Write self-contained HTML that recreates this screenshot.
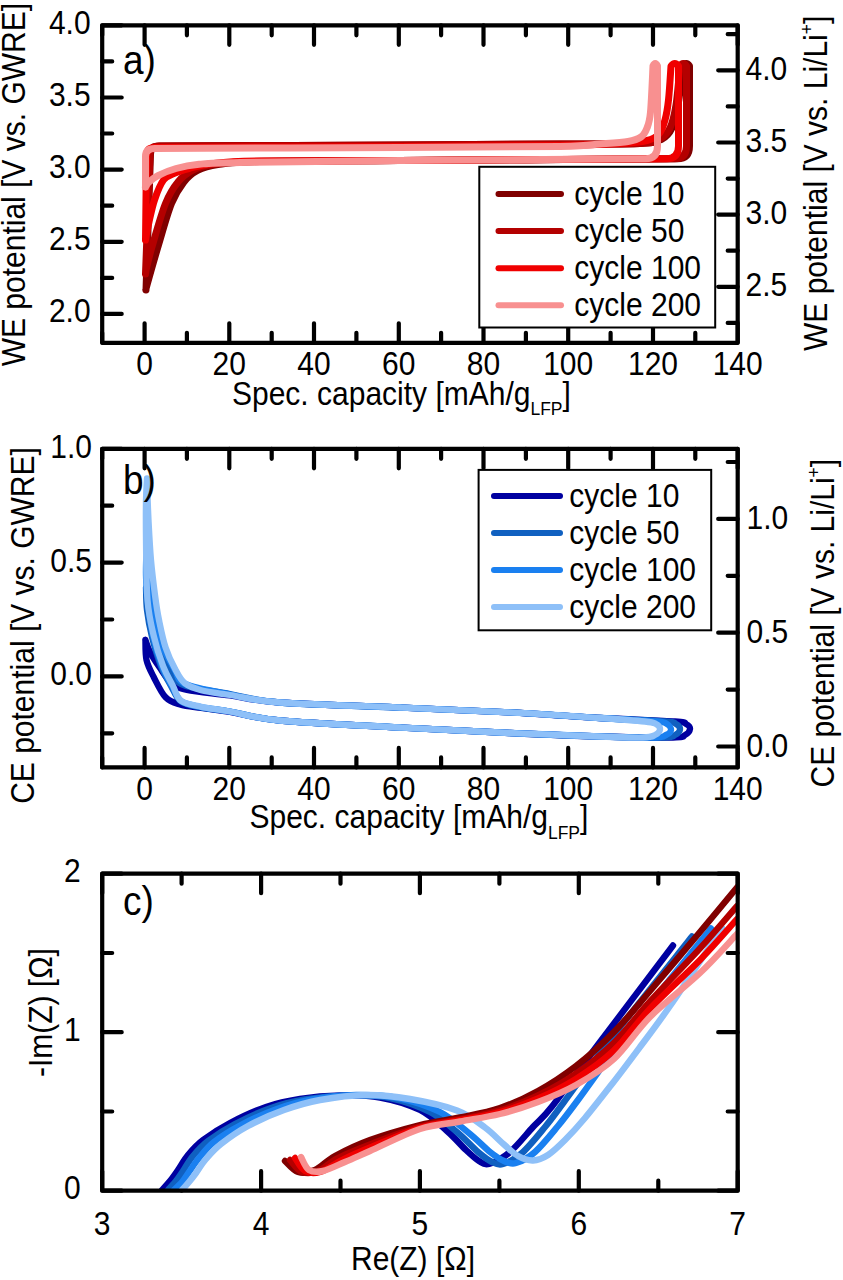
<!DOCTYPE html>
<html><head><meta charset="utf-8"><style>
html,body{margin:0;padding:0;background:#fff;}
svg{display:block;}
text{font-family:"Liberation Sans", sans-serif;fill:#000;}
</style></head><body>
<svg width="843" height="1280" viewBox="0 0 843 1280">
<defs><clipPath id="clipc"><rect x="102.2" y="873.7" width="635.5" height="317.0"/></clipPath></defs>
<rect width="843" height="1280" fill="#fff"/>
<path d="M144.6 342.8V323.3M144.6 25.3V44.8M229.3 342.8V323.3M229.3 25.3V44.8M314.0 342.8V323.3M314.0 25.3V44.8M398.8 342.8V323.3M398.8 25.3V44.8M483.5 342.8V323.3M483.5 25.3V44.8M568.2 342.8V323.3M568.2 25.3V44.8M653.0 342.8V323.3M653.0 25.3V44.8M737.7 342.8V323.3M737.7 25.3V44.8M102.2 342.8V332.8M102.2 25.3V35.3M186.9 342.8V332.8M186.9 25.3V35.3M271.7 342.8V332.8M271.7 25.3V35.3M356.4 342.8V332.8M356.4 25.3V35.3M441.1 342.8V332.8M441.1 25.3V35.3M525.9 342.8V332.8M525.9 25.3V35.3M610.6 342.8V332.8M610.6 25.3V35.3M695.3 342.8V332.8M695.3 25.3V35.3M102.2 313.9H121.7M102.2 241.8H121.7M102.2 169.6H121.7M102.2 97.5H121.7M102.2 25.3H121.7M102.2 277.9H112.2M102.2 205.7H112.2M102.2 133.5H112.2M102.2 61.4H112.2M737.7 286.8H718.2M737.7 214.6H718.2M737.7 142.5H718.2M737.7 70.3H718.2M737.7 322.9H727.7M737.7 250.7H727.7M737.7 178.6H727.7M737.7 106.4H727.7M737.7 34.2H727.7" stroke="#000" stroke-width="4.2" stroke-linecap="round" fill="none"/>
<path d="M146.0 290.0L150.5 154.0Q150.5 146.0 159.5 146.0C199.6 145.8 333.2 145.3 400.0 145.0C466.8 144.7 520.0 144.2 560.0 144.0C600.0 143.8 623.0 144.3 640.0 143.5C657.0 142.7 656.7 141.6 662.0 139.0C667.3 136.4 669.3 133.7 672.0 128.0C674.7 122.3 676.2 115.3 678.0 105.0C679.8 94.7 682.2 72.5 683.0 66.0Q686.2 61 689.5 66V146Q689.5 158.8 677.5 158.8C631.2 159.1 469.6 160.1 400.0 160.5C330.4 160.9 290.3 160.8 260.0 161.5C229.7 162.2 228.4 163.0 218.0 164.5C207.6 166.0 203.2 167.5 197.5 170.5C191.8 173.5 187.8 177.0 183.5 182.5C179.2 188.0 175.7 193.1 171.5 203.5C167.3 213.9 162.6 231.4 158.5 245.0C154.4 258.6 149.1 277.5 147.0 285.0C144.9 292.5 146.2 289.2 146.0 290.0" fill="none" stroke="#800000" stroke-width="7.0" stroke-linejoin="round" stroke-linecap="round" />
<path d="M145.5 274.0L150.0 154.0Q150.0 146.0 159.0 146.0C199.2 145.8 333.2 145.3 400.0 145.0C466.8 144.7 520.0 144.2 560.0 144.0C600.0 143.8 623.3 144.3 640.0 143.5C656.7 142.7 655.0 141.6 660.0 139.0C665.0 136.4 667.3 133.7 670.0 128.0C672.7 122.3 674.3 115.3 676.0 105.0C677.7 94.7 679.3 72.5 680.0 66.0Q683.2 61 686.5 66V146Q686.5 158.8 674.5 158.8C628.8 159.1 469.1 160.1 400.0 160.5C330.9 160.9 290.7 160.7 260.0 161.3C229.3 161.9 227.2 162.6 216.0 164.0C204.8 165.4 199.3 167.0 193.0 170.0C186.7 173.0 182.6 176.4 178.0 182.0C173.4 187.6 169.8 193.0 165.5 203.5C161.2 214.0 155.6 234.6 152.5 245.0C149.4 255.4 148.2 261.2 147.0 266.0C145.8 270.8 145.8 272.7 145.5 274.0" fill="none" stroke="#b40000" stroke-width="7.0" stroke-linejoin="round" stroke-linecap="round" />
<path d="M145.5 240.0L146.5 155.5Q146.5 147.5 155.5 147.5C196.2 147.3 332.6 146.8 400.0 146.5C467.4 146.2 523.3 146.0 560.0 145.5C596.7 145.0 605.5 144.3 620.0 143.5C634.5 142.7 640.5 142.1 647.0 140.5C653.5 138.9 656.0 137.4 659.0 134.0C662.0 130.6 663.4 125.7 665.0 120.0C666.6 114.3 667.5 109.0 668.5 100.0C669.5 91.0 670.6 71.7 671.0 66.0Q674.8 61 678.5 66V146Q678.5 158.8 666.5 158.8C622.1 159.1 467.8 160.1 400.0 160.5C332.2 160.9 291.2 160.5 260.0 161.0C228.8 161.5 224.8 162.2 213.0 163.5C201.2 164.8 195.3 166.9 189.0 168.5C182.7 170.1 179.2 171.1 175.0 173.0C170.8 174.9 166.9 175.5 163.5 180.0C160.1 184.5 156.9 193.0 154.5 200.0C152.1 207.0 150.3 216.3 149.0 222.0C147.7 227.7 147.1 231.0 146.5 234.0C145.9 237.0 145.7 239.0 145.5 240.0" fill="none" stroke="#f00000" stroke-width="7.0" stroke-linejoin="round" stroke-linecap="round" />
<path d="M145.5 187.0L145.5 156.5Q145.5 148.5 154.5 148.5C195.4 148.3 332.4 147.8 400.0 147.5C467.6 147.2 526.7 147.1 560.0 146.5C593.3 145.9 588.7 144.8 600.0 144.0C611.3 143.2 621.2 142.7 628.0 141.5C634.8 140.3 637.8 139.2 641.0 137.0C644.2 134.8 645.4 132.2 647.0 128.0C648.6 123.8 649.5 122.3 650.5 112.0C651.5 101.7 652.6 73.7 653.0 66.0Q655.2 61 657.5 66V146Q657.5 158.8 645.5 158.8C604.6 159.1 467.6 159.9 400.0 160.5C332.4 161.1 273.5 161.9 240.0 162.5C206.5 163.1 209.7 163.3 199.0 164.3C188.3 165.3 182.8 166.6 176.0 168.5C169.2 170.4 162.5 173.3 158.0 175.6C153.5 177.8 151.1 180.1 149.0 182.0C146.9 183.9 146.1 186.2 145.5 187.0" fill="none" stroke="#f89090" stroke-width="7.0" stroke-linejoin="round" stroke-linecap="round" />
<rect x="102.2" y="25.3" width="635.5" height="317.5" fill="none" stroke="#000" stroke-width="4.2" stroke-linejoin="round"/>
<text transform="translate(90.6,322.2) scale(1,1.08)" font-size="30" text-anchor="end" >2.0</text>
<text transform="translate(90.6,250.1) scale(1,1.08)" font-size="30" text-anchor="end" >2.5</text>
<text transform="translate(90.6,177.9) scale(1,1.08)" font-size="30" text-anchor="end" >3.0</text>
<text transform="translate(90.6,105.8) scale(1,1.08)" font-size="30" text-anchor="end" >3.5</text>
<text transform="translate(90.6,33.6) scale(1,1.08)" font-size="30" text-anchor="end" >4.0</text>
<text transform="translate(144.6,375.0) scale(1,1.08)" font-size="30" text-anchor="middle" >0</text>
<text transform="translate(229.3,375.0) scale(1,1.08)" font-size="30" text-anchor="middle" >20</text>
<text transform="translate(314.0,375.0) scale(1,1.08)" font-size="30" text-anchor="middle" >40</text>
<text transform="translate(398.8,375.0) scale(1,1.08)" font-size="30" text-anchor="middle" >60</text>
<text transform="translate(483.5,375.0) scale(1,1.08)" font-size="30" text-anchor="middle" >80</text>
<text transform="translate(568.2,375.0) scale(1,1.08)" font-size="30" text-anchor="middle" >100</text>
<text transform="translate(653.0,375.0) scale(1,1.08)" font-size="30" text-anchor="middle" >120</text>
<text transform="translate(737.7,375.0) scale(1,1.08)" font-size="30" text-anchor="middle" >140</text>
<text transform="translate(745.5,296.1) scale(1,1.08)" font-size="30" text-anchor="start" >2.5</text>
<text transform="translate(745.5,223.9) scale(1,1.08)" font-size="30" text-anchor="start" >3.0</text>
<text transform="translate(745.5,151.8) scale(1,1.08)" font-size="30" text-anchor="start" >3.5</text>
<text transform="translate(745.5,79.6) scale(1,1.08)" font-size="30" text-anchor="start" >4.0</text>
<text transform="translate(25.0,184.6) rotate(-90) scale(1,1.08)" font-size="30" text-anchor="middle">WE potential [V vs. GWRE]</text>
<text transform="translate(827,351) rotate(-90) scale(1,1.08)" font-size="30">WE potential [V vs. Li/Li<tspan font-size="17.5" dy="-13">+</tspan><tspan dy="13">]</tspan></text>
<text transform="translate(232,404.5) scale(1,1.08)" font-size="30">Spec. capacity [mAh/g<tspan font-size="17.5" dy="10">LFP</tspan><tspan dy="-10">]</tspan></text>
<text transform="translate(123.0,73.5) scale(1,1.08)" font-size="37" text-anchor="start" >a)</text>
<rect x="479.3" y="166.8" width="235.9" height="160.7" fill="#fff" stroke="#000" stroke-width="2"/>
<path d="M498.5 194.0H561" stroke="#800000" stroke-width="6" stroke-linecap="round"/>
<text transform="translate(574.3,205.0) scale(1,1.08)" font-size="30" text-anchor="start" >cycle 10</text>
<path d="M498.5 231.1H561" stroke="#b40000" stroke-width="6" stroke-linecap="round"/>
<text transform="translate(574.3,242.1) scale(1,1.08)" font-size="30" text-anchor="start" >cycle 50</text>
<path d="M498.5 268.2H561" stroke="#f00000" stroke-width="6" stroke-linecap="round"/>
<text transform="translate(574.3,279.2) scale(1,1.08)" font-size="30" text-anchor="start" >cycle 100</text>
<path d="M498.5 305.3H561" stroke="#f89090" stroke-width="6" stroke-linecap="round"/>
<text transform="translate(574.3,316.3) scale(1,1.08)" font-size="30" text-anchor="start" >cycle 200</text>
<path d="M144.6 767.4V747.9M144.6 448.8V468.3M229.3 767.4V747.9M229.3 448.8V468.3M314.0 767.4V747.9M314.0 448.8V468.3M398.8 767.4V747.9M398.8 448.8V468.3M483.5 767.4V747.9M483.5 448.8V468.3M568.2 767.4V747.9M568.2 448.8V468.3M653.0 767.4V747.9M653.0 448.8V468.3M737.7 767.4V747.9M737.7 448.8V468.3M102.2 767.4V757.4M102.2 448.8V458.8M186.9 767.4V757.4M186.9 448.8V458.8M271.7 767.4V757.4M271.7 448.8V458.8M356.4 767.4V757.4M356.4 448.8V458.8M441.1 767.4V757.4M441.1 448.8V458.8M525.9 767.4V757.4M525.9 448.8V458.8M610.6 767.4V757.4M610.6 448.8V458.8M695.3 767.4V757.4M695.3 448.8V458.8M102.2 676.4H121.7M102.2 562.6H121.7M102.2 448.8H121.7M102.2 733.3H112.2M102.2 619.5H112.2M102.2 505.7H112.2M737.7 746.5H718.2M737.7 632.7H718.2M737.7 518.9H718.2M737.7 689.6H727.7M737.7 575.8H727.7M737.7 462.0H727.7" stroke="#000" stroke-width="4.2" stroke-linecap="round" fill="none"/>
<path d="M145.4 640.0C146.2 642.0 147.6 647.3 150.0 652.0C152.4 656.7 156.4 662.8 160.0 668.0C163.6 673.2 167.0 679.3 171.5 683.0C176.0 686.7 177.2 687.9 187.0 690.0C196.8 692.1 214.5 693.4 230.0 695.5C245.5 697.6 251.7 700.5 280.0 702.5C308.3 704.5 361.7 705.9 400.0 707.5C438.3 709.1 476.7 710.6 510.0 712.4C543.3 714.1 572.5 716.5 600.0 718.0C627.5 719.5 660.7 720.5 675.0 721.5C689.3 722.5 683.5 722.8 686.0 724.0C688.5 725.2 690.2 727.2 690.0 729.0C689.8 730.8 687.8 733.6 685.0 735.0C682.2 736.4 687.2 737.2 673.0 737.5C658.8 737.8 627.2 737.2 600.0 736.5C572.8 735.8 543.3 734.5 510.0 733.0C476.7 731.5 438.3 729.6 400.0 727.5C361.7 725.4 308.3 723.1 280.0 720.5C251.7 717.9 243.2 714.1 230.0 712.0C216.8 709.9 209.3 709.2 201.0 708.0C192.7 706.8 185.9 706.3 180.0 704.5C174.1 702.7 170.0 701.9 165.6 697.3C161.2 692.7 156.9 683.2 153.7 677.0C150.5 670.8 147.9 666.2 146.5 660.0C145.1 653.8 145.6 643.3 145.4 640.0" fill="none" stroke="#0000a0" stroke-width="6.3" stroke-linejoin="round" stroke-linecap="round" />
<path d="M146.0 588.0C146.5 592.5 147.5 606.3 149.0 615.0C150.5 623.7 152.7 632.5 155.0 640.0C157.3 647.5 159.8 653.8 163.0 660.0C166.2 666.2 170.2 672.7 174.0 677.0C177.8 681.3 176.7 683.2 186.0 686.0C195.3 688.8 214.3 691.2 230.0 694.0C245.7 696.8 251.7 700.2 280.0 702.5C308.3 704.8 361.7 705.9 400.0 707.5C438.3 709.1 476.7 710.6 510.0 712.4C543.3 714.1 574.2 716.5 600.0 718.0C625.8 719.5 652.3 720.5 665.0 721.5C677.7 722.5 673.5 722.7 676.0 724.0C678.5 725.3 680.2 727.7 680.0 729.5C679.8 731.3 677.8 733.7 675.0 735.0C672.2 736.3 675.5 737.2 663.0 737.5C650.5 737.8 625.5 737.2 600.0 736.5C574.5 735.8 543.3 734.5 510.0 733.0C476.7 731.5 438.3 729.6 400.0 727.5C361.7 725.4 308.3 723.2 280.0 720.5C251.7 717.8 243.2 713.7 230.0 711.5C216.8 709.3 209.2 709.2 201.0 707.5C192.8 705.8 186.0 705.1 181.0 701.5C176.0 697.9 174.3 691.9 171.0 686.0C167.7 680.1 164.2 674.2 161.0 666.0C157.8 657.8 154.3 646.3 152.0 637.0C149.7 627.7 148.0 618.2 147.0 610.0C146.0 601.8 146.2 591.7 146.0 588.0" fill="none" stroke="#1060c0" stroke-width="6.3" stroke-linejoin="round" stroke-linecap="round" />
<path d="M146.5 549.0C146.8 554.2 147.1 569.5 148.0 580.0C148.9 590.5 150.5 602.7 152.0 612.0C153.5 621.3 154.8 629.3 157.0 636.0C159.2 642.7 162.0 646.3 165.0 652.0C168.0 657.7 171.7 664.7 175.0 670.0C178.3 675.3 175.8 679.9 185.0 684.0C194.2 688.1 214.2 691.4 230.0 694.5C245.8 697.6 251.7 700.3 280.0 702.5C308.3 704.7 361.7 705.9 400.0 707.5C438.3 709.1 476.7 710.6 510.0 712.4C543.3 714.1 575.7 716.5 600.0 718.0C624.3 719.5 644.8 720.5 656.0 721.5C667.2 722.5 664.5 722.6 667.0 724.0C669.5 725.4 671.2 728.2 671.0 730.0C670.8 731.8 668.8 733.8 666.0 735.0C663.2 736.2 665.0 737.2 654.0 737.5C643.0 737.8 624.0 737.2 600.0 736.5C576.0 735.8 543.3 734.5 510.0 733.0C476.7 731.5 438.3 729.6 400.0 727.5C361.7 725.4 308.3 723.2 280.0 720.5C251.7 717.8 243.2 713.8 230.0 711.5C216.8 709.2 209.2 708.8 201.0 707.0C192.8 705.2 185.8 704.5 181.0 701.0C176.2 697.5 175.2 691.8 172.0 686.0C168.8 680.2 165.2 674.3 162.0 666.0C158.8 657.7 155.4 647.0 153.0 636.0C150.6 625.0 148.7 610.2 147.5 600.0C146.3 589.8 146.2 583.5 146.0 575.0C145.8 566.5 146.4 553.3 146.5 549.0" fill="none" stroke="#1a80f0" stroke-width="6.3" stroke-linejoin="round" stroke-linecap="round" />
<path d="M147.0 478.5C147.2 485.4 147.8 506.4 148.5 520.0C149.2 533.6 149.9 547.5 151.0 560.0C152.1 572.5 153.7 585.0 155.0 595.0C156.3 605.0 157.2 611.3 159.0 620.0C160.8 628.7 162.9 639.3 165.6 647.4C168.3 655.5 171.8 662.9 175.0 668.8C178.2 674.7 180.2 679.4 184.6 683.0C189.0 686.6 193.6 688.2 201.2 690.2C208.8 692.2 216.9 693.0 230.0 695.0C243.1 697.0 251.7 700.4 280.0 702.5C308.3 704.6 361.7 705.9 400.0 707.5C438.3 709.1 476.7 710.6 510.0 712.4C543.3 714.1 577.5 716.5 600.0 718.0C622.5 719.5 635.7 720.5 645.0 721.5C654.3 722.5 653.5 722.7 656.0 724.0C658.5 725.3 660.2 727.7 660.0 729.5C659.8 731.3 657.8 733.7 655.0 735.0C652.2 736.3 652.2 737.2 643.0 737.5C633.8 737.8 622.2 737.2 600.0 736.5C577.8 735.8 543.3 734.5 510.0 733.0C476.7 731.5 438.3 729.6 400.0 727.5C361.7 725.4 308.3 723.2 280.0 720.5C251.7 717.8 243.1 713.8 230.0 711.5C216.9 709.2 209.4 708.6 201.2 706.8C193.0 705.0 185.8 704.4 181.0 700.8C176.2 697.2 175.7 691.1 172.7 685.4C169.7 679.7 166.4 674.7 163.2 666.4C160.0 658.1 156.3 646.7 153.7 635.6C151.1 624.5 148.8 615.9 147.5 600.0C146.2 584.1 146.2 556.7 146.0 540.0C145.8 523.3 145.8 510.2 146.0 500.0C146.2 489.8 146.8 482.1 147.0 478.5" fill="none" stroke="#8ec0f8" stroke-width="6.3" stroke-linejoin="round" stroke-linecap="round" />
<rect x="102.2" y="448.8" width="635.5" height="318.6" fill="none" stroke="#000" stroke-width="4.2" stroke-linejoin="round"/>
<text transform="translate(92.0,685.4) scale(1,1.08)" font-size="30" text-anchor="end" >0.0</text>
<text transform="translate(92.0,571.6) scale(1,1.08)" font-size="30" text-anchor="end" >0.5</text>
<text transform="translate(92.0,457.8) scale(1,1.08)" font-size="30" text-anchor="end" >1.0</text>
<text transform="translate(144.6,799.5) scale(1,1.08)" font-size="30" text-anchor="middle" >0</text>
<text transform="translate(229.3,799.5) scale(1,1.08)" font-size="30" text-anchor="middle" >20</text>
<text transform="translate(314.0,799.5) scale(1,1.08)" font-size="30" text-anchor="middle" >40</text>
<text transform="translate(398.8,799.5) scale(1,1.08)" font-size="30" text-anchor="middle" >60</text>
<text transform="translate(483.5,799.5) scale(1,1.08)" font-size="30" text-anchor="middle" >80</text>
<text transform="translate(568.2,799.5) scale(1,1.08)" font-size="30" text-anchor="middle" >100</text>
<text transform="translate(653.0,799.5) scale(1,1.08)" font-size="30" text-anchor="middle" >120</text>
<text transform="translate(737.7,799.5) scale(1,1.08)" font-size="30" text-anchor="middle" >140</text>
<text transform="translate(746.5,756.8) scale(1,1.08)" font-size="30" text-anchor="start" >0.0</text>
<text transform="translate(746.5,643.0) scale(1,1.08)" font-size="30" text-anchor="start" >0.5</text>
<text transform="translate(746.5,529.2) scale(1,1.08)" font-size="30" text-anchor="start" >1.0</text>
<text transform="translate(34.0,625.5) rotate(-90) scale(1,1.08)" font-size="30" text-anchor="middle">CE potential [V vs. GWRE]</text>
<text transform="translate(834,787.5) rotate(-90) scale(1,1.08)" font-size="30">CE potential [V vs. Li/Li<tspan font-size="17.5" dy="-13">+</tspan><tspan dy="13">]</tspan></text>
<text transform="translate(249.5,828) scale(1,1.08)" font-size="30">Spec. capacity [mAh/g<tspan font-size="17.5" dy="10">LFP</tspan><tspan dy="-10">]</tspan></text>
<text transform="translate(123.0,494.0) scale(1,1.08)" font-size="37" text-anchor="start" >b)</text>
<rect x="478.6" y="469.9" width="232.6" height="160.4" fill="#fff" stroke="#000" stroke-width="2"/>
<path d="M494 496.0H560" stroke="#0000a0" stroke-width="6" stroke-linecap="round"/>
<text transform="translate(569.3,507.0) scale(1,1.08)" font-size="30" text-anchor="start" >cycle 10</text>
<path d="M494 533.0H560" stroke="#1060c0" stroke-width="6" stroke-linecap="round"/>
<text transform="translate(569.3,544.0) scale(1,1.08)" font-size="30" text-anchor="start" >cycle 50</text>
<path d="M494 570.0H560" stroke="#1a80f0" stroke-width="6" stroke-linecap="round"/>
<text transform="translate(569.3,581.0) scale(1,1.08)" font-size="30" text-anchor="start" >cycle 100</text>
<path d="M494 607.0H560" stroke="#8ec0f8" stroke-width="6" stroke-linecap="round"/>
<text transform="translate(569.3,618.0) scale(1,1.08)" font-size="30" text-anchor="start" >cycle 200</text>
<path d="M102.2 1190.7V1171.2M102.2 873.7V893.2M261.1 1190.7V1171.2M261.1 873.7V893.2M419.9 1190.7V1171.2M419.9 873.7V893.2M578.8 1190.7V1171.2M578.8 873.7V893.2M737.7 1190.7V1171.2M737.7 873.7V893.2M181.6 1190.7V1180.7M181.6 873.7V883.7M340.5 1190.7V1180.7M340.5 873.7V883.7M499.4 1190.7V1180.7M499.4 873.7V883.7M658.3 1190.7V1180.7M658.3 873.7V883.7M102.2 1190.7H121.7M102.2 1032.2H121.7M102.2 873.7H121.7M102.2 1111.5H112.2M102.2 953.0H112.2M737.7 1190.7H718.2M737.7 1032.2H718.2M737.7 873.7H718.2M737.7 1111.5H727.7M737.7 953.0H727.7" stroke="#000" stroke-width="4.2" stroke-linecap="round" fill="none"/>
<g clip-path="url(#clipc)"><path d="M162.0 1190.0C163.3 1188.5 167.3 1184.3 170.0 1181.0C172.7 1177.7 175.0 1174.3 178.0 1170.0C181.0 1165.7 183.8 1160.0 188.0 1155.0C192.2 1150.0 196.0 1145.3 203.0 1140.0C210.0 1134.7 219.5 1128.5 230.0 1123.0C240.5 1117.5 254.3 1111.0 266.0 1107.0C277.7 1103.0 287.7 1100.9 300.0 1099.0C312.3 1097.1 326.7 1095.8 340.0 1095.5C353.3 1095.2 366.7 1095.1 380.0 1097.5C393.3 1099.9 408.8 1104.4 420.0 1110.0C431.2 1115.6 439.3 1124.3 447.0 1131.0C454.7 1137.7 460.7 1145.0 466.0 1150.0C471.3 1155.0 475.2 1158.7 479.0 1161.0C482.8 1163.3 483.8 1165.5 489.0 1164.0C494.2 1162.5 502.7 1158.2 510.0 1152.0C517.3 1145.8 526.0 1134.6 533.0 1127.0C540.0 1119.4 541.3 1120.0 552.0 1106.5C562.7 1093.0 576.8 1072.8 597.0 1046.0C617.2 1019.2 660.3 962.2 673.0 945.5" fill="none" stroke="#0000a0" stroke-width="6.4" stroke-linejoin="round" stroke-linecap="round" />
<path d="M168.0 1190.0C169.3 1188.5 173.5 1184.2 176.0 1181.0C178.5 1177.8 180.2 1175.2 183.0 1171.0C185.8 1166.8 188.8 1161.0 193.0 1156.0C197.2 1151.0 201.0 1146.3 208.0 1141.0C215.0 1135.7 224.5 1129.5 235.0 1124.0C245.5 1118.5 259.3 1112.1 271.0 1108.0C282.7 1103.9 292.2 1101.6 305.0 1099.5C317.8 1097.4 333.8 1095.8 348.0 1095.5C362.2 1095.2 376.3 1095.2 390.0 1098.0C403.7 1100.8 418.7 1106.2 430.0 1112.0C441.3 1117.8 450.0 1126.3 458.0 1133.0C466.0 1139.7 472.3 1147.2 478.0 1152.0C483.7 1156.8 487.8 1160.0 492.0 1162.0C496.2 1164.0 498.0 1165.5 503.0 1164.0C508.0 1162.5 515.0 1159.2 522.0 1153.0C529.0 1146.8 538.0 1135.5 545.0 1127.0C552.0 1118.5 553.2 1116.5 564.0 1102.0C574.8 1087.5 588.7 1067.6 610.0 1040.0C631.3 1012.4 678.3 953.8 692.0 936.5" fill="none" stroke="#1060c0" stroke-width="6.4" stroke-linejoin="round" stroke-linecap="round" />
<path d="M174.0 1190.0C175.3 1188.7 179.5 1185.0 182.0 1182.0C184.5 1179.0 186.2 1176.0 189.0 1172.0C191.8 1168.0 194.8 1163.0 199.0 1158.0C203.2 1153.0 207.0 1147.5 214.0 1142.0C221.0 1136.5 230.5 1130.5 241.0 1125.0C251.5 1119.5 265.2 1113.2 277.0 1109.0C288.8 1104.8 298.8 1101.8 312.0 1099.5C325.2 1097.2 341.7 1095.2 356.0 1095.0C370.3 1094.8 384.0 1095.2 398.0 1098.0C412.0 1100.8 428.0 1106.0 440.0 1112.0C452.0 1118.0 461.7 1127.3 470.0 1134.0C478.3 1140.7 484.3 1147.5 490.0 1152.0C495.7 1156.5 499.7 1159.2 504.0 1161.0C508.3 1162.8 510.8 1164.5 516.0 1163.0C521.2 1161.5 528.0 1158.2 535.0 1152.0C542.0 1145.8 550.8 1134.7 558.0 1126.0C565.2 1117.3 566.3 1115.7 578.0 1100.0C589.7 1084.3 605.8 1060.6 628.0 1032.0C650.2 1003.4 697.2 945.8 711.0 928.5" fill="none" stroke="#1a80f0" stroke-width="6.4" stroke-linejoin="round" stroke-linecap="round" />
<path d="M182.0 1190.0C183.2 1188.7 186.7 1184.8 189.0 1182.0C191.3 1179.2 193.2 1176.8 196.0 1173.0C198.8 1169.2 201.8 1163.8 206.0 1159.0C210.2 1154.2 214.0 1149.5 221.0 1144.0C228.0 1138.5 237.5 1131.7 248.0 1126.0C258.5 1120.3 272.0 1114.3 284.0 1110.0C296.0 1105.7 306.3 1102.5 320.0 1100.0C333.7 1097.5 351.0 1095.2 366.0 1095.0C381.0 1094.8 394.8 1096.4 410.0 1099.0C425.2 1101.6 444.5 1105.8 457.0 1110.5C469.5 1115.2 477.2 1121.8 485.0 1127.5C492.8 1133.2 498.5 1139.8 504.0 1144.5C509.5 1149.2 513.2 1153.3 518.0 1156.0C522.8 1158.7 528.0 1160.7 533.0 1160.5C538.0 1160.3 542.7 1158.4 548.0 1155.0C553.3 1151.6 558.8 1146.2 565.0 1140.0C571.2 1133.8 577.2 1127.3 585.0 1118.0C592.8 1108.7 602.8 1095.8 612.0 1084.0C621.2 1072.2 630.3 1060.0 640.0 1047.0C649.7 1034.0 656.3 1025.8 670.0 1006.0C683.7 986.2 713.3 941.0 722.0 928.0" fill="none" stroke="#8ec0f8" stroke-width="6.4" stroke-linejoin="round" stroke-linecap="round" />
<path d="M285.0 1161.0C287.2 1162.8 293.0 1170.5 298.0 1172.0C303.0 1173.5 308.8 1172.7 315.0 1170.0C321.2 1167.3 325.8 1161.0 335.0 1156.0C344.2 1151.0 355.8 1145.2 370.0 1140.0C384.2 1134.8 405.0 1128.8 420.0 1125.0C435.0 1121.2 446.7 1120.3 460.0 1117.5C473.3 1114.7 487.0 1112.4 500.0 1108.0C513.0 1103.6 525.3 1098.0 538.0 1091.0C550.7 1084.0 563.3 1075.8 576.0 1066.0C588.7 1056.2 601.7 1044.5 614.0 1032.0C626.3 1019.5 635.7 1007.7 650.0 991.0C664.3 974.3 685.5 949.2 700.0 932.0C714.5 914.8 730.8 894.9 737.0 887.5" fill="none" stroke="#800000" stroke-width="6.4" stroke-linejoin="round" stroke-linecap="round" />
<path d="M290.0 1160.0C292.0 1162.0 297.3 1170.2 302.0 1172.0C306.7 1173.8 312.0 1173.3 318.0 1171.0C324.0 1168.7 329.3 1162.4 338.0 1158.0C346.7 1153.6 356.3 1149.6 370.0 1144.4C383.7 1139.2 405.0 1130.8 420.0 1126.6C435.0 1122.4 446.7 1121.8 460.0 1119.1C473.3 1116.4 487.0 1114.4 500.0 1110.4C513.0 1106.5 525.3 1101.5 538.0 1095.4C550.7 1089.3 563.3 1082.4 576.0 1073.6C588.7 1064.8 601.7 1054.8 614.0 1042.8C626.3 1030.8 635.7 1017.1 650.0 1001.4C664.3 985.7 685.5 964.3 700.0 948.4C714.5 932.5 730.8 913.1 737.0 906.1" fill="none" stroke="#b40000" stroke-width="6.4" stroke-linejoin="round" stroke-linecap="round" />
<path d="M295.0 1158.0C296.7 1160.2 300.8 1168.7 305.0 1171.0C309.2 1173.3 313.8 1173.8 320.0 1172.0C326.2 1170.2 333.7 1164.1 342.0 1160.0C350.3 1155.9 357.0 1152.9 370.0 1147.5C383.0 1142.1 405.0 1132.3 420.0 1127.7C435.0 1123.2 446.7 1122.8 460.0 1120.2C473.3 1117.6 487.0 1115.7 500.0 1112.1C513.0 1108.5 525.3 1104.0 538.0 1098.5C550.7 1093.0 563.3 1086.9 576.0 1078.9C588.7 1070.9 601.7 1062.1 614.0 1050.4C626.3 1038.7 635.7 1023.8 650.0 1008.7C664.3 993.6 685.5 974.8 700.0 959.9C714.5 945.0 730.8 925.9 737.0 919.1" fill="none" stroke="#f00000" stroke-width="6.4" stroke-linejoin="round" stroke-linecap="round" />
<path d="M301.0 1157.0C302.3 1159.2 305.3 1167.7 309.0 1170.0C312.7 1172.3 317.0 1172.3 323.0 1171.0C329.0 1169.7 337.2 1165.3 345.0 1162.0C352.8 1158.7 357.5 1156.5 370.0 1151.0C382.5 1145.5 405.0 1133.9 420.0 1129.0C435.0 1124.1 446.7 1124.0 460.0 1121.5C473.3 1119.0 487.0 1117.2 500.0 1114.0C513.0 1110.8 525.3 1106.8 538.0 1102.0C550.7 1097.2 563.3 1092.2 576.0 1085.0C588.7 1077.8 601.7 1070.3 614.0 1059.0C626.3 1047.7 635.7 1031.3 650.0 1017.0C664.3 1002.7 685.5 986.8 700.0 973.0C714.5 959.2 730.8 940.5 737.0 934.0" fill="none" stroke="#f89090" stroke-width="6.4" stroke-linejoin="round" stroke-linecap="round" /></g>
<rect x="102.2" y="873.7" width="635.5" height="317.0" fill="none" stroke="#000" stroke-width="4.2" stroke-linejoin="round"/>
<text transform="translate(80.6,1199.0) scale(1,1.08)" font-size="30" text-anchor="end" >0</text>
<text transform="translate(80.6,1040.5) scale(1,1.08)" font-size="30" text-anchor="end" >1</text>
<text transform="translate(80.6,882.0) scale(1,1.08)" font-size="30" text-anchor="end" >2</text>
<text transform="translate(102.2,1235.0) scale(1,1.08)" font-size="30" text-anchor="middle" >3</text>
<text transform="translate(261.1,1235.0) scale(1,1.08)" font-size="30" text-anchor="middle" >4</text>
<text transform="translate(419.9,1235.0) scale(1,1.08)" font-size="30" text-anchor="middle" >5</text>
<text transform="translate(578.8,1235.0) scale(1,1.08)" font-size="30" text-anchor="middle" >6</text>
<text transform="translate(737.7,1235.0) scale(1,1.08)" font-size="30" text-anchor="middle" >7</text>
<text transform="translate(51.6,1012.6) rotate(-90) scale(1,1.08)" font-size="30" text-anchor="middle">-Im(Z) [Ω]</text>
<text transform="translate(413.0,1269.7) scale(1,1.08)" font-size="30" text-anchor="middle" >Re(Z) [Ω]</text>
<text transform="translate(123.0,914.5) scale(1,1.08)" font-size="37" text-anchor="start" >c)</text>
</svg></body></html>
